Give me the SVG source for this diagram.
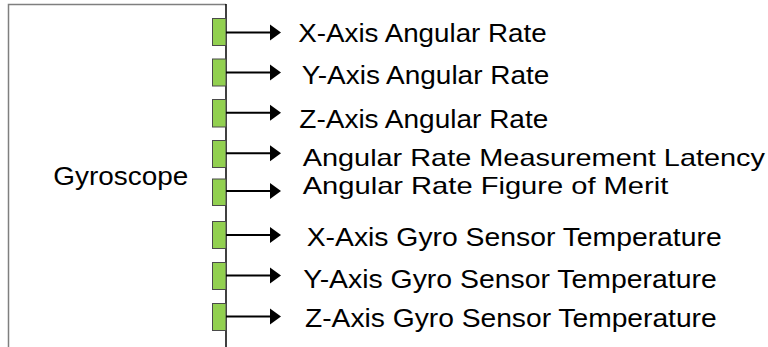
<svg xmlns="http://www.w3.org/2000/svg" width="768" height="347" viewBox="0 0 768 347">
<style>
text{font-family:"Liberation Sans","Open Sans",sans-serif;font-size:25.5px;fill:#000}
text.tight{font-size:24px}
.port{fill:#92D050;stroke:#4a4a4a;stroke-width:1}
.conn{stroke:#000;stroke-width:2;fill:none}
.head{fill:#000}
</style>
<defs>
<polygon id="ah" class="head" points="0,-8 11,0 0,8"/>
</defs>
<rect width="768" height="347" fill="#fff"/>
<g id="gyroscope">
<path d="M8.5,347 V4.5 H226" fill="none" stroke="#7f7f7f" stroke-width="1.5"/>
<path d="M226,4 V347" fill="none" stroke="#000" stroke-width="1.5"/>
<text x="53.3" y="185" textLength="135" lengthAdjust="spacingAndGlyphs">Gyroscope</text>
</g>
<g id="ports">
<rect class="port" x="212.5" y="18.5" width="13.5" height="27"/>
<rect class="port" x="212.5" y="59" width="13.5" height="27"/>
<rect class="port" x="212.5" y="99.5" width="13.5" height="27.5"/>
<rect class="port" x="212.5" y="140.5" width="13.5" height="27"/>
<rect class="port" x="212.5" y="179" width="13.5" height="26.5"/>
<rect class="port" x="212.5" y="221.5" width="13.5" height="27"/>
<rect class="port" x="212.5" y="262.5" width="13.5" height="27"/>
<rect class="port" x="212.5" y="303.5" width="13.5" height="27"/>
</g>
<g id="connectors">
<line class="conn" x1="226" y1="32.5" x2="272" y2="32.5"/><use href="#ah" x="270" y="32.5"/>
<line class="conn" x1="226" y1="72.5" x2="272" y2="72.5"/><use href="#ah" x="270" y="72.5"/>
<line class="conn" x1="226" y1="112.7" x2="272" y2="112.7"/><use href="#ah" x="270" y="112.7"/>
<line class="conn" x1="226" y1="153.3" x2="272" y2="153.3"/><use href="#ah" x="270" y="153.3"/>
<line class="conn" x1="226" y1="191" x2="272" y2="191"/><use href="#ah" x="270" y="191"/>
<line class="conn" x1="226" y1="235" x2="272" y2="235"/><use href="#ah" x="270" y="235"/>
<line class="conn" x1="226" y1="275.5" x2="272" y2="275.5"/><use href="#ah" x="270" y="275.5"/>
<line class="conn" x1="226" y1="316.5" x2="272" y2="316.5"/><use href="#ah" x="270" y="316.5"/>
</g>
<g id="labels">
<text x="298.3" y="41.7" textLength="248.4" lengthAdjust="spacingAndGlyphs">X-Axis Angular Rate</text>
<text x="301.7" y="83.5" textLength="247.6" lengthAdjust="spacingAndGlyphs">Y-Axis Angular Rate</text>
<text x="299.3" y="128.3" textLength="249" lengthAdjust="spacingAndGlyphs">Z-Axis Angular Rate</text>
<text class="tight" x="302.7" y="166.3" textLength="462.3" lengthAdjust="spacingAndGlyphs">Angular Rate Measurement Latency</text>
<text class="tight" x="302.7" y="193.6" textLength="365.6" lengthAdjust="spacingAndGlyphs">Angular Rate Figure of Merit</text>
<text x="306.7" y="246.3" textLength="415" lengthAdjust="spacingAndGlyphs">X-Axis Gyro Sensor Temperature</text>
<text x="303.3" y="288.3" textLength="413.4" lengthAdjust="spacingAndGlyphs">Y-Axis Gyro Sensor Temperature</text>
<text x="305" y="326.5" textLength="411.7" lengthAdjust="spacingAndGlyphs">Z-Axis Gyro Sensor Temperature</text>
</g>
</svg>
